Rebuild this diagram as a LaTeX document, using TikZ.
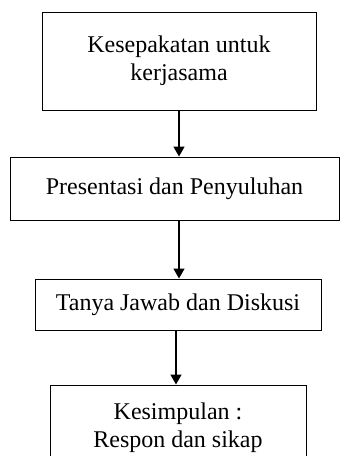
\documentclass[tikz,border=0pt]{standalone}
\usepackage{fontspec}
\setmainfont{Liberation Serif}
\usetikzlibrary{arrows.meta}

\tikzset{
  stepbox/.style={draw, line width=1pt, inner sep=0pt, align=center,
    font=\fontsize{24}{28}\selectfont},
  flow/.style={-{Triangle[length=10pt,width=11pt]}, line width=1.5pt}
}

\begin{document}
\begin{tikzpicture}[x=1pt,y=-1pt]
  \useasboundingbox (0,0) rectangle (344,456);
  \clip (0,0) rectangle (344,456);
  % steps
  \node[stepbox, minimum width=274pt, minimum height=98pt] (sepakat) at (179,61) {Kesepakatan untuk\\kerjasama};
  \node[stepbox, minimum width=329pt, minimum height=63pt] (presentasi) at (174.5,188.5) {Presentasi dan Penyuluhan};
  \node[stepbox, minimum width=286pt, minimum height=51pt] (tanya) at (178,304.5) {Tanya Jawab dan Diskusi};
  \node[stepbox, minimum width=256pt, minimum height=85pt] (simpul) at (178,427.5) {Kesimpulan :\\Respon dan sikap};
  % arrows
  \draw[flow] (sepakat.south) -- (sepakat.south |- presentasi.north);
  \draw[flow] (presentasi.south -| sepakat.south) -- (sepakat.south |- tanya.north);
  \draw[flow] (tanya.south -| 176,0) -- (176,0 |- simpul.north);
\end{tikzpicture}
\end{document}
